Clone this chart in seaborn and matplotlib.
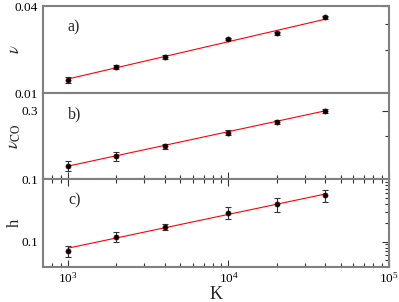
import numpy as np
import pandas as pd
import matplotlib
matplotlib.use("Agg")
import matplotlib.pyplot as plt
import matplotlib.ticker as mticker
import seaborn as sns

# values
K = [1000, 2000, 4000, 10000, 20000, 40000]
nu = [0.0123, 0.0151, 0.0177, 0.0235, 0.0259, 0.0334]
nu_err = [0.0006, 0.0005, 0.0005, 0.0004, 0.0006, 0.0007]
nu_co = [0.124, 0.144, 0.169, 0.211, 0.249, 0.300]
nu_co_err = [0.010, 0.010, 0.007, 0.009, 0.008, 0.008]
h = [0.0715, 0.120, 0.171, 0.290, 0.40, 0.55]
h_err = [0.0145, 0.0215, 0.0185, 0.063, 0.10, 0.12]

# fitted power laws (end points)
K_fit = [1000, 40000]
nu_fit = [0.0125, 0.0324]
nu_co_fit = [0.123, 0.300]
h_fit = [0.0785, 0.575]

sns.set_style("white")
plt.rcParams['font.family'] = ['Liberation Serif', 'DejaVu Serif']
plt.rcParams['mathtext.fontset'] = 'stix'

fig = plt.figure(figsize=(3.99, 3.02), dpi=100)
left, right = 43 / 399, 389 / 399
rows = [(6, 93), (93, 179), (179, 266.5)]
axes = []
for top, bot in rows:
    ax = fig.add_axes([left, 1 - bot / 302, right - left, (bot - top) / 302])
    axes.append(ax)

panels = [
    (nu, nu_err, nu_fit, (0.01, 0.04), [0.01, 0.04], [0.02, 0.03], r'$\nu$', 'a)'),
    (nu_co, nu_co_err, nu_co_fit, (0.1, 0.4), [0.1, 0.3], [0.2], r'$\nu_{\rm CO}$', 'b)'),
    (h, h_err, h_fit, (0.04, 1.0), [0.1],
     [0.04, 0.05, 0.06, 0.07, 0.08, 0.09, 0.2, 0.3, 0.4, 0.5, 0.6, 0.7, 0.8, 0.9, 1.0],
     'h', 'c)'),
]

for i, (ax, (y, yerr, yfit, ylim, major, minor, ylab, tag)) in enumerate(zip(axes, panels)):
    df = pd.DataFrame({'K': K, 'y': y})
    fit = pd.DataFrame({'K': K_fit, 'y': yfit})
    sns.lineplot(data=fit, x='K', y='y', ax=ax, color='red', lw=0.8, zorder=2)
    ax.errorbar(K, y, yerr=yerr, fmt='none', ecolor='#333333', elinewidth=0.8,
                capsize=2.5, capthick=0.8, zorder=3)
    sns.scatterplot(data=df, x='K', y='y', ax=ax, color='black', s=14,
                    edgecolor='#550000', linewidth=0.4, zorder=4)
    ax.set_xscale('log')
    ax.set_yscale('log')
    ax.set_xlim(700, 1e5)
    ax.set_ylim(*ylim)
    ax.yaxis.set_major_locator(mticker.FixedLocator(major))
    ax.yaxis.set_minor_locator(mticker.FixedLocator(minor))
    ax.yaxis.set_major_formatter(mticker.FixedFormatter([str(v) for v in major]))
    ax.yaxis.set_minor_formatter(mticker.NullFormatter())
    ax.xaxis.set_major_locator(mticker.LogLocator(base=10))
    ax.xaxis.set_minor_locator(mticker.LogLocator(base=10, subs=np.arange(2, 10)))
    ax.tick_params(axis='both', which='both', direction='in', colors='#333333',
                   labelcolor='black', labelsize=9.5, right=True, width=0.8)
    ax.tick_params(axis='both', which='major', length=5)
    ax.tick_params(axis='both', which='minor', length=3)
    if i == 0:
        ax.tick_params(axis='x', which='both', bottom=False, top=False, labelbottom=False)
    elif i == 1:
        ax.tick_params(axis='x', which='both', bottom=True, top=False, labelbottom=False)
    else:
        ax.tick_params(axis='x', which='both', bottom=True, top=True, labelbottom=True)
    for s in ax.spines.values():
        s.set_color('#808080')
        s.set_linewidth(1.5)
    ax.set_ylabel(ylab, fontsize=12)
    ax.yaxis.set_label_coords(-0.058, 0.5)
    ax.set_xlabel('')
    ax.text(0.072, 0.75, tag, transform=ax.transAxes, fontsize=11.5, va='center')

axes[2].set_xlabel('K', fontsize=13, labelpad=0)

fig.savefig('out.png', dpi=100)
